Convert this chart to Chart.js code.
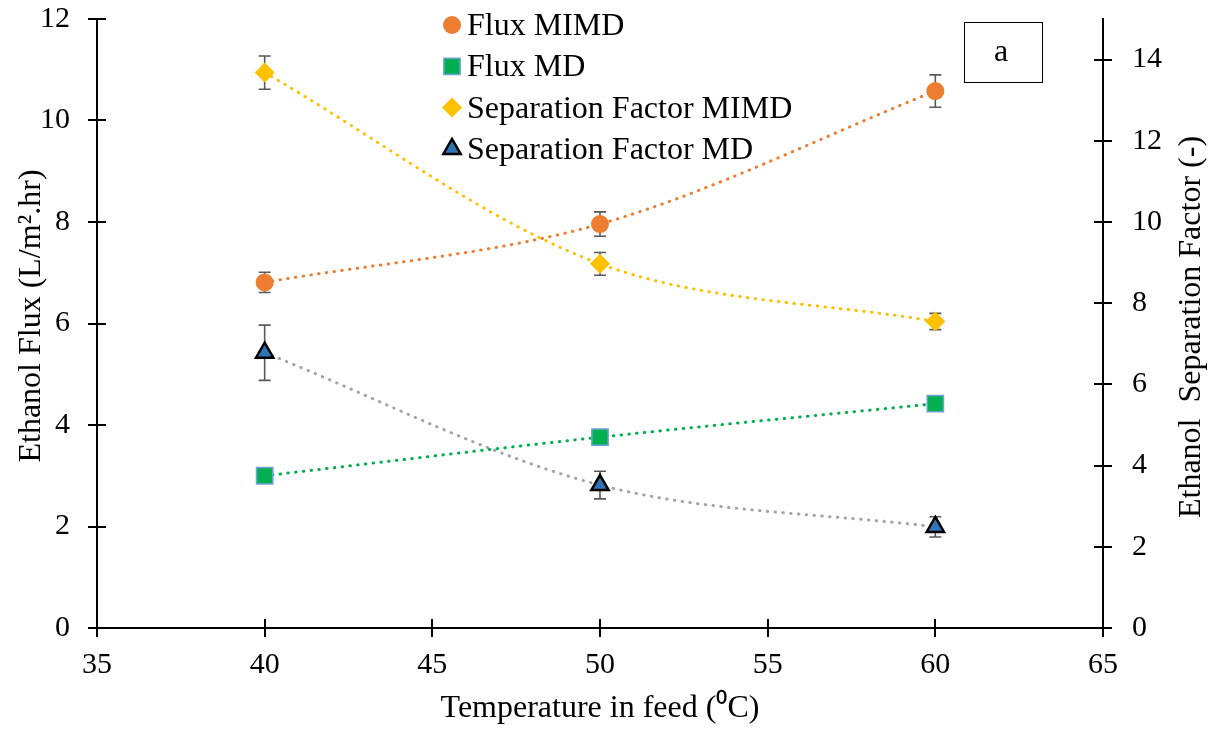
<!DOCTYPE html>
<html>
<head>
<meta charset="utf-8">
<script src="https://cdn.jsdelivr.net/npm/chart.js@4.4.1/dist/chart.umd.min.js"></script>
<style>
  html, body { margin: 0; padding: 0; background: #fff; }
</style>
</head>
<body>
<canvas id="fluxChart" width="1221" height="729"></canvas>
<script>
'use strict'
// data
var temperatures = [40, 50, 60];
var fluxMIMD = [6.81, 7.96, 10.58];
var fluxMIMDErr = [0.20, 0.24, 0.32];
var fluxMD = [3.00, 3.76, 4.42];
var fluxMDErr = [0.05, 0.06, 0.06];
var sepMIMD = [13.68, 8.97, 7.55];
var sepMIMDErr = [0.41, 0.28, 0.20];
var sepMD = [6.78, 3.52, 2.49];
var sepMDErr = [0.68, 0.34, 0.25];

var xTicks = [35, 40, 45, 50, 55, 60, 65];
var fluxTicks = [0, 2, 4, 6, 8, 10, 12];
var sepTicks = [0, 2, 4, 6, 8, 10, 12, 14];

var labels = ['Flux MIMD', 'Flux MD', 'Separation Factor MIMD', 'Separation Factor MD'];

Chart.defaults.font.family = "'Liberation Serif', 'Times New Roman', serif";
Chart.defaults.font.size = 30;
Chart.defaults.color = '#000';

function points(ys) {
  var out = [];
  for (var i = 0; i < temperatures.length; i++) {
    out.push({ x: temperatures[i], y: ys[i] });
  }
  return out;
}

function dotted(color) {
  return {
    borderColor: color,
    borderWidth: 3,
    borderDash: [0.5, 7.3],
    borderCapStyle: 'round',
    tension: 0.33,
    showLine: true
  };
}

const data = {
  datasets: [
    Object.assign(dotted('#ED7D31'), {
      label: labels[0], data: points(fluxMIMD), errors: fluxMIMDErr, yAxisID: 'y',
      pointStyle: 'circle', pointRadius: 9, pointBackgroundColor: '#ED7D31',
      pointBorderColor: '#ED7D31', pointBorderWidth: 0
    }),
    Object.assign(dotted('#00B050'), {
      label: labels[1], data: points(fluxMD), errors: fluxMDErr, yAxisID: 'y',
      pointStyle: 'rect', pointRadius: 11.5, pointBackgroundColor: '#00B050',
      pointBorderColor: '#6FA0D8', pointBorderWidth: 1.5
    }),
    Object.assign(dotted('#FFC000'), {
      label: labels[2], data: points(sepMIMD), errors: sepMIMDErr, yAxisID: 'y1',
      pointStyle: 'rectRot', pointRadius: 10, pointBackgroundColor: '#FFC000',
      pointBorderColor: '#FFC000', pointBorderWidth: 0
    }),
    Object.assign(dotted('#A5A5A5'), {
      label: labels[3], data: points(sepMD), errors: sepMDErr, yAxisID: 'y1',
      pointStyle: 'triangle', pointRadius: 10, pointBackgroundColor: '#2E75B6',
      pointBorderColor: '#000', pointBorderWidth: 2.5
    })
  ]
};

// error bars behind the markers
const errorBars = {
  id: 'errorBars',
  beforeDatasetsDraw(chart) {
    const ctx = chart.ctx;
    ctx.save();
    ctx.strokeStyle = '#595959';
    ctx.lineWidth = 1.6;
    chart.data.datasets.forEach(function (ds, i) {
      const meta = chart.getDatasetMeta(i);
      const sc = chart.scales[ds.yAxisID];
      ds.data.forEach(function (p, j) {
        const x = meta.data[j].x;
        const top = sc.getPixelForValue(p.y + ds.errors[j]);
        const bot = sc.getPixelForValue(p.y - ds.errors[j]);
        ctx.beginPath();
        ctx.moveTo(x, top); ctx.lineTo(x, bot);
        ctx.moveTo(x - 6, top); ctx.lineTo(x + 6, top);
        ctx.moveTo(x - 6, bot); ctx.lineTo(x + 6, bot);
        ctx.stroke();
      });
    });
    ctx.restore();
  }
};

// tick marks cross the axis lines, legend inside the plot, titles, panel tag
const decorations = {
  id: 'decorations',
  afterDraw(chart) {
    const ctx = chart.ctx;
    const a = chart.chartArea;
    const xs = chart.scales.x, ys = chart.scales.y, ys1 = chart.scales.y1;
    ctx.save();
    ctx.strokeStyle = '#000';
    ctx.lineWidth = 2;
    ctx.beginPath();
    xTicks.forEach(function (v) {
      const px = Math.round(xs.getPixelForValue(v));
      ctx.moveTo(px, a.bottom); ctx.lineTo(px, a.bottom - 9);
    });
    fluxTicks.forEach(function (v) {
      const py = Math.round(ys.getPixelForValue(v));
      ctx.moveTo(a.left, py); ctx.lineTo(a.left + 9, py);
    });
    sepTicks.forEach(function (v) {
      const py = Math.round(ys1.getPixelForValue(v));
      ctx.moveTo(a.right, py); ctx.lineTo(a.right - 9, py);
    });
    ctx.stroke();

    // legend
    ctx.font = "32px 'Liberation Serif'";
    ctx.textBaseline = 'alphabetic';
    ctx.textAlign = 'left';
    chart.data.datasets.forEach(function (ds, i) {
      const cy = 25 + i * 41.3;
      ctx.fillStyle = ds.pointBackgroundColor;
      ctx.strokeStyle = ds.pointBorderColor;
      ctx.lineWidth = ds.pointBorderWidth;
      Chart.helpers.drawPoint(ctx, {
        pointStyle: ds.pointStyle,
        radius: ds.pointRadius,
        rotation: 0,
        borderWidth: ds.pointBorderWidth
      }, 452, cy);
      ctx.fillStyle = '#000';
      ctx.fillText(ds.label, 467, cy + 10);
    });

    // panel tag
    ctx.strokeStyle = '#000';
    ctx.lineWidth = 1;
    ctx.strokeRect(964.5, 22.5, 78, 60);
    ctx.textAlign = 'center';
    ctx.fillText('a', 1001, 61);

    // axis titles
    ctx.fillText('Temperature in feed (\u2070C)', (a.left + a.right) / 2, 717);
    ctx.save();
    ctx.translate(40, 316);
    ctx.rotate(-Math.PI / 2);
    ctx.fillText('Ethanol Flux (L/m\u00B2.hr)', 0, 0);
    ctx.restore();
    ctx.save();
    ctx.translate(1200, 327);
    ctx.rotate(-Math.PI / 2);
    ctx.fillText('Ethanol  Separation Factor (-)', 0, 0);
    ctx.restore();
    ctx.restore();
  }
};

function fixVertical(width) {
  return function (s) {
    s.width = width;
    s.paddingTop = 0;
    s.paddingBottom = 0;
  };
}

const config = {
  type: 'scatter',
  data: data,
  options: {
    responsive: false,
    animation: false,
    layout: { padding: { top: 19, left: 0, right: 0, bottom: 0 } },
    plugins: {
      legend: { display: false },
      tooltip: { enabled: false }
    },
    scales: {
      x: {
        type: 'linear', min: 35, max: 65,
        border: { color: '#000', width: 2 },
        grid: { drawOnChartArea: false, color: '#000', lineWidth: 2, tickLength: 9 },
        ticks: { stepSize: 5, padding: 10 },
        afterBuildTicks: function (s) { s.ticks = xTicks.map(function (v) { return { value: v }; }); },
        afterFit: function (s) { s.height = 101; s.paddingLeft = 0; s.paddingRight = 0; }
      },
      y: {
        position: 'left', min: 0, max: 12,
        border: { color: '#000', width: 2 },
        grid: { drawOnChartArea: false, color: '#000', lineWidth: 2, tickLength: 9 },
        ticks: { stepSize: 2, padding: 18 },
        afterBuildTicks: function (s) { s.ticks = fluxTicks.map(function (v) { return { value: v }; }); },
        afterFit: fixVertical(97)
      },
      y1: {
        position: 'right', min: 0, max: 15,
        border: { color: '#000', width: 2 },
        grid: { drawOnChartArea: false, color: '#000', lineWidth: 2, tickLength: 9 },
        ticks: { stepSize: 2, padding: 20 },
        afterBuildTicks: function (s) { s.ticks = sepTicks.map(function (v) { return { value: v }; }); },
        afterFit: fixVertical(118)
      }
    }
  },
  plugins: [errorBars, decorations]
};

const fluxChart = new Chart(document.getElementById('fluxChart'), config);
</script>
</body>
</html>
